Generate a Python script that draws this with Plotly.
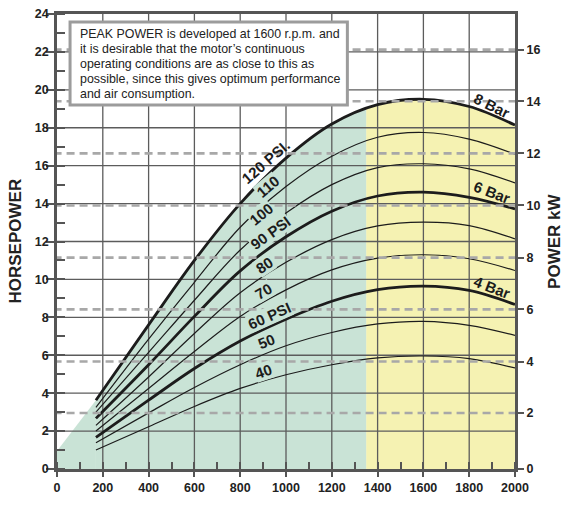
import plotly.graph_objects as go

# ---------------- data ----------------
rpm = [170, 400, 600, 800, 1000, 1200, 1400, 1600, 1800, 2000]

hp_120 = [3.63, 7.6, 11.0, 14.0, 16.4, 18.2, 19.22, 19.5, 19.12, 18.14]
hp_110 = [3.25, 6.85, 9.85, 12.75, 14.9, 16.5, 17.5, 17.75, 17.4, 16.6]
hp_100 = [3.0, 6.15, 8.9, 11.55, 13.5, 15.0, 15.9, 16.1, 15.83, 15.09]
hp_90 = [2.67, 5.5, 8.05, 10.45, 12.25, 13.6, 14.4, 14.6, 14.33, 13.72]
hp_80 = [2.3, 4.85, 7.15, 9.3, 10.9, 12.1, 12.82, 13.02, 12.84, 12.14]
hp_70 = [2.0, 4.25, 6.2, 8.05, 9.45, 10.5, 11.12, 11.3, 11.09, 10.47]
hp_60 = [1.67, 3.63, 5.3, 6.75, 7.9, 8.85, 9.46, 9.65, 9.42, 8.68]
hp_50 = [1.39, 2.96, 4.3, 5.5, 6.5, 7.2, 7.65, 7.79, 7.58, 7.05]
hp_40 = [1.0, 2.23, 3.3, 4.25, 4.97, 5.5, 5.86, 5.96, 5.82, 5.33]

# 120 PSI curve read at the green / yellow boundary
split_rpm = 1350
hp_120_at_split = 19.02
green_edge_hp_at_zero = 0.95

psi_labels = ["120 PSI.", "110", "100", "90 PSI", "80", "70", "60 PSI", "50", "40"]
psi_label_rpm = [913, 921, 891, 934, 904, 900, 930, 913, 900]
psi_label_hp = [16.21, 14.89, 13.42, 12.47, 10.74, 9.37, 8.08, 6.74, 5.16]
psi_label_angle = [-41, -40, -39, -36, -34, -30, -24, -22, -19]

bar_labels = ["8 Bar", "6 Bar", "4 Bar"]
bar_label_rpm = [1898, 1901, 1901]
bar_label_hp = [19.16, 14.56, 9.56]
bar_label_angle = [26, 21, 21]

x_ticks = list(range(0, 2001, 200))
hp_ticks = list(range(0, 25, 2))
kw_labels = ["0", "2", "4", "6", "8", "10", "12", "14", "16"]
kw_tick_hp = [0, 2.95, 5.67, 8.42, 11.15, 13.9, 16.65, 19.4, 22.12]

note_lines = [
    "PEAK POWER is developed at 1600 r.p.m. and",
    "it is desirable that the motor\u2019s continuous",
    "operating conditions are as close to this as",
    "possible, since this gives optimum performance",
    "and air consumption.",
]

# ---------------- styling ----------------
FONT = "Liberation Sans, Arial, Helvetica, sans-serif"
GREEN = "#c9e3d6"
YELLOW = "#f5f2b2"
GRID = "#5c5c5c"
FRAME = "#555555"
INK = "#1c1c1c"

series = [hp_120, hp_110, hp_100, hp_90, hp_80, hp_70, hp_60, hp_50, hp_40]
thick = [True, False, False, True, False, False, True, False, False]

fig = go.Figure()

# fills under the 120 PSI curve
gx = [r for r in rpm if r < split_rpm] + [split_rpm]
gy = [h for r, h in zip(rpm, hp_120) if r < split_rpm] + [hp_120_at_split]
yx = [split_rpm] + [r for r in rpm if r > split_rpm]
yy = [hp_120_at_split] + [h for r, h in zip(rpm, hp_120) if r > split_rpm]

fig.add_trace(go.Scatter(x=yx, y=yy, mode="lines", fill="tozeroy", fillcolor=YELLOW,
                         line=dict(width=0, shape="spline"), hoverinfo="skip"))
fig.add_trace(go.Scatter(x=gx, y=gy, mode="lines", fill="tozeroy", fillcolor=GREEN,
                         line=dict(width=0, shape="spline"), hoverinfo="skip"))
fig.add_trace(go.Scatter(x=[0, 0, rpm[0], rpm[0]],
                         y=[0, green_edge_hp_at_zero, hp_120[0], 0],
                         mode="lines", fill="toself", fillcolor=GREEN,
                         line=dict(width=0), hoverinfo="skip"))

# grid lines drawn as traces so they sit above the fills
grid_x, grid_y = [], []
for xv in x_ticks[1:-1]:
    grid_x += [xv, xv, None]
    grid_y += [0, 24, None]
for yv in hp_ticks[1:-1]:
    grid_x += [0, 2000, None]
    grid_y += [yv, yv, None]
fig.add_trace(go.Scatter(x=grid_x, y=grid_y, mode="lines",
                         line=dict(color=GRID, width=1.3), hoverinfo="skip"))

# dashed kW reference lines (on the kW axis)
dx, dy = [], []
for v in kw_tick_hp[1:]:
    dx += [-15, 2000, None]
    dy += [v, v, None]
fig.add_trace(go.Scatter(x=dx, y=dy, mode="lines", yaxis="y2", cliponaxis=False,
                         line=dict(color="#a8a8a8", width=2.6, dash="8px,5px"),
                         hoverinfo="skip"))

# power curves
for ys, tk in zip(series, thick):
    fig.add_trace(go.Scatter(x=rpm, y=ys, mode="lines",
                             line=dict(color=INK, width=2.8 if tk else 1.2, shape="spline"),
                             hoverinfo="skip"))

annotations = []
psi_bg = ["rgba(0,0,0,0)"] + [GREEN] * 8
for t, xv, yv, a, bg in zip(psi_labels, psi_label_rpm, psi_label_hp, psi_label_angle, psi_bg):
    annotations.append(dict(x=xv, y=yv, xref="x", yref="y", text=t, showarrow=False,
                            textangle=a, bgcolor=bg, borderpad=0,
                            font=dict(family=FONT, size=15, color=INK, weight="bold")))
for t, xv, yv, a in zip(bar_labels, bar_label_rpm, bar_label_hp, bar_label_angle):
    annotations.append(dict(x=xv, y=yv, xref="x", yref="y", text=t, showarrow=False,
                            textangle=a,
                            font=dict(family=FONT, size=15, color=INK, weight="bold")))

# note box text (one annotation per line)
line_hp = [22.92, 22.13, 21.34, 20.55, 19.77]
for t, yv in zip(note_lines, line_hp):
    annotations.append(dict(x=92, y=yv, xref="x", yref="y", text=t, showarrow=False,
                            xanchor="left", yanchor="middle",
                            font=dict(family=FONT, size=12.4, color="#222222")))

# axis titles
annotations.append(dict(x=-0.0917, y=0.5, xref="paper", yref="paper", text="HORSEPOWER",
                        showarrow=False, textangle=-90, xanchor="center", yanchor="middle",
                        font=dict(family=FONT, size=17, color="#222222", weight="bold")))
annotations.append(dict(x=1.086, y=0.5, xref="paper", yref="paper", text="POWER kW",
                        showarrow=False, textangle=-90, xanchor="center", yanchor="middle",
                        font=dict(family=FONT, size=17, color="#222222", weight="bold")))

shapes = [dict(type="rect", xref="x", yref="y", x0=57, x1=1268, y0=19.2, y1=23.58,
               line=dict(color="#9c9c9c", width=3), fillcolor="white", layer="above")]

tickfont = dict(family=FONT, size=12.5, color="#222222", weight="bold")

fig.update_layout(
    width=563, height=516,
    margin=dict(l=57, r=48, t=14, b=47, autoexpand=False),
    paper_bgcolor="white", plot_bgcolor="white",
    showlegend=False,
    annotations=annotations,
    shapes=shapes,
    xaxis=dict(range=[0, 2000], tickmode="linear", tick0=0, dtick=200, automargin=False,
               ticks="outside", ticklen=5, tickwidth=1.5, tickcolor=FRAME,
               showline=True, linecolor=FRAME, linewidth=2.5, mirror=True,
               showgrid=False, zeroline=False, tickfont=tickfont,
               minor=dict(dtick=100, ticks="inside", ticklen=7, tickwidth=1.5,
                          tickcolor=FRAME, showgrid=False)),
    yaxis=dict(range=[0, 24], tickmode="linear", tick0=0, dtick=2, automargin=False,
               ticks="outside", ticklen=8, tickwidth=1.5, tickcolor=FRAME,
               ticklabelstandoff=-5,
               showline=True, linecolor=FRAME, linewidth=2.5, mirror=True,
               showgrid=False, zeroline=False, tickfont=tickfont,
               minor=dict(dtick=1, ticks="inside", ticklen=8, tickwidth=1.5,
                          tickcolor=FRAME, showgrid=False)),
    yaxis2=dict(range=[0, 24], overlaying="y", side="right", automargin=False,
                tickmode="array", tickvals=kw_tick_hp, ticktext=kw_labels,
                ticks="outside", ticklen=8, tickwidth=1.5, tickcolor=FRAME,
                showline=False, showgrid=False, zeroline=False, tickfont=tickfont),
)

# the page's default body margin would push the 563x516 figure out of the window
fig.write_html("out.html", config={"displayModeBar": False},
               post_script="document.body.style.margin='0';")
